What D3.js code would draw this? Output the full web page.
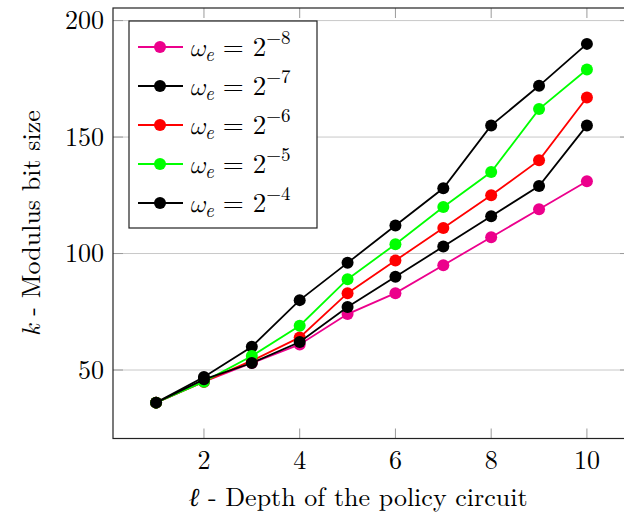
<!DOCTYPE html>
<html>
<head>
<meta charset="utf-8">
<script src="https://cdn.jsdelivr.net/npm/d3@7"></script>
<style>
  body { margin: 0; background: #fff; }
</style>
</head>
<body>
<div id="chart"></div>
<script>
// data
const depths = [1, 2, 3, 4, 5, 6, 7, 8, 9, 10];
const wm8 = [36, 45, 53, 61, 74, 83, 95, 107, 119, 131];
const wm7 = [36, 47, 60, 80, 96, 112, 128, 155, 172, 190];
const wm6 = [36, 45, 54, 64, 83, 97, 111, 125, 140, 167];
const wm5 = [36, 45, 56, 69, 89, 104, 120, 135, 162, 179];
const wm4 = [36, 46, 53, 62, 77, 90, 103, 116, 129, 155];
const exponents = ["8", "7", "6", "5", "4"];
const colors = ["#ec008c", "#000000", "#ff0000", "#00ff00", "#000000"];
const xTicks = [2, 4, 6, 8, 10];
const yTicks = [50, 100, 150, 200];

const series = [wm8, wm7, wm6, wm5, wm4].map((vals, i) => ({
    exp: exponents[i],
    color: colors[i],
    points: vals.map((v, j) => ({ x: depths[j], y: v }))
}));

const width = 624, height = 514;
const boxL = 113, boxR = 630, boxT = 8, boxB = 438.5;
const fs = 26;
const font = "'Latin Modern Roman', 'Liberation Serif', serif";

const svg = d3.select("#chart")
    .append("svg")
    .attr("width", width)
    .attr("height", height)
    .attr("font-family", font);

// pgfplots style enlarged limits
const x = d3.scaleLinear().domain([0.1, 10.9]).range([boxL, boxR]);
const y = d3.scaleLinear().domain([20.6, 205.4]).range([boxB, boxT]);

// horizontal grid
svg.append("g")
    .selectAll("line")
    .data(yTicks)
    .join("line")
    .attr("x1", boxL).attr("x2", boxR)
    .attr("y1", d => y(d)).attr("y2", d => y(d))
    .attr("stroke", "#c8c8c8")
    .attr("stroke-width", 1);

// tick marks inside the box
const tickLen = 10;
const ticks = svg.append("g").attr("stroke", "#9a9a9a").attr("stroke-width", 1);
xTicks.forEach(t => {
    ticks.append("line").attr("x1", x(t)).attr("x2", x(t)).attr("y1", boxB).attr("y2", boxB - tickLen);
    ticks.append("line").attr("x1", x(t)).attr("x2", x(t)).attr("y1", boxT).attr("y2", boxT + tickLen);
});
yTicks.forEach(t => {
    ticks.append("line").attr("x1", boxR).attr("x2", boxR - tickLen).attr("y1", y(t)).attr("y2", y(t));
    ticks.append("line").attr("x1", boxL).attr("x2", boxL + tickLen).attr("y1", y(t)).attr("y2", y(t));
});

// axis box
svg.append("rect")
    .attr("x", boxL).attr("y", boxT)
    .attr("width", boxR - boxL).attr("height", boxB - boxT)
    .attr("fill", "none")
    .attr("stroke", "#222")
    .attr("stroke-width", 1.2);

// tick labels
svg.append("g")
    .selectAll("text")
    .data(xTicks)
    .join("text")
    .attr("x", d => x(d))
    .attr("y", 469)
    .attr("text-anchor", "middle")
    .attr("font-size", fs)
    .text(d => d);

svg.append("g")
    .selectAll("text")
    .data(yTicks)
    .join("text")
    .attr("x", 104)
    .attr("y", d => y(d))
    .attr("dy", "0.33em")
    .attr("text-anchor", "end")
    .attr("font-size", fs)
    .text(d => d);

// axis labels
const xl = svg.append("text")
    .attr("x", 358)
    .attr("y", 506)
    .attr("text-anchor", "middle")
    .attr("font-size", fs);
xl.append("tspan").attr("font-style", "italic").text("ℓ");
xl.append("tspan").text(" - Depth of the policy circuit");

const yl = svg.append("text")
    .attr("transform", `translate(40, ${(boxT + boxB) / 2}) rotate(-90)`)
    .attr("text-anchor", "middle")
    .attr("font-size", fs);
yl.append("tspan").attr("font-style", "italic").text("k");
yl.append("tspan").text(" - Modulus bit size");

// lines + markers
const line = d3.line().x(d => x(d.x)).y(d => y(d.y));

series.forEach(s => {
    const g = svg.append("g");
    g.append("path")
        .datum(s.points)
        .attr("d", line)
        .attr("fill", "none")
        .attr("stroke", s.color)
        .attr("stroke-width", 1.8);
    g.selectAll("circle")
        .data(s.points)
        .join("circle")
        .attr("cx", d => x(d.x))
        .attr("cy", d => y(d.y))
        .attr("r", 6)
        .attr("fill", s.color);
});

// legend
const legend = svg.append("g").attr("transform", "translate(129, 21)");
legend.append("rect")
    .attr("width", 188).attr("height", 207)
    .attr("fill", "#fff")
    .attr("stroke", "#222")
    .attr("stroke-width", 1.2);

series.forEach((s, i) => {
    const cy = 26 + i * 39;
    legend.append("line")
        .attr("x1", 9).attr("x2", 54)
        .attr("y1", cy).attr("y2", cy)
        .attr("stroke", s.color)
        .attr("stroke-width", 1.8);
    legend.append("circle")
        .attr("cx", 31).attr("cy", cy).attr("r", 6)
        .attr("fill", s.color);
    const t = legend.append("text")
        .attr("x", 60)
        .attr("y", cy + 9)
        .attr("font-size", 27);
    t.append("tspan").attr("font-style", "italic")
        .attr("font-family", "'Latin Modern Math', 'DejaVu Serif', serif")
        .attr("font-size", 25).text("ω");
    t.append("tspan").attr("font-style", "italic").attr("font-size", 19).attr("dy", 5).text("e");
    t.append("tspan").attr("dy", -5).attr("dx", 9).text("=");
    t.append("tspan").attr("dx", 9).text("2");
    t.append("tspan").attr("font-size", 19).attr("dy", -12).text("−" + s.exp);
});
</script>
</body>
</html>
